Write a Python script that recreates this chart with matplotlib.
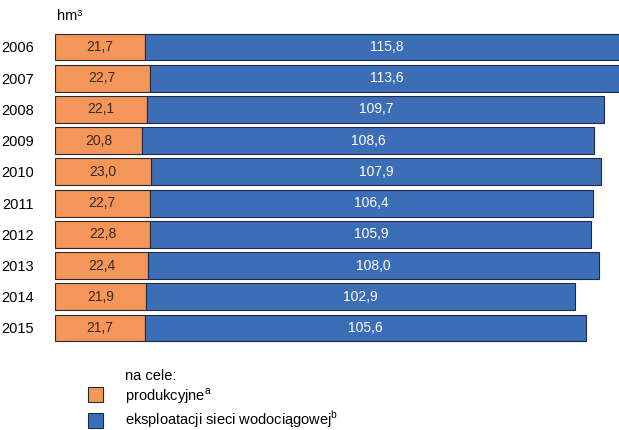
import matplotlib.pyplot as plt
from matplotlib.patches import Rectangle

plt.rcParams['font.family'] = ['Liberation Sans', 'DejaVu Sans']

lata = ["2006", "2007", "2008", "2009", "2010", "2011", "2012", "2013", "2014", "2015"]
produkcyjne = [21.7, 22.7, 22.1, 20.8, 23.0, 22.7, 22.8, 22.4, 21.9, 21.7]
eksploatacja = [115.8, 113.6, 109.7, 108.6, 107.9, 106.4, 105.9, 108.0, 102.9, 105.6]

kolor_pom = '#F4955A'
kolor_nieb = '#3C6EB8'

fig = plt.figure(figsize=(6.19, 4.30), dpi=100)
ax = fig.add_axes([55 / 619, 0.201, 1 - 55 / 619, 0.726])

y = list(range(len(lata)))
ax.barh(y, produkcyjne, height=0.86, color=kolor_pom, edgecolor='#2a2a2a', linewidth=0.8)
ax.barh(y, eksploatacja, left=produkcyjne, height=0.86, color=kolor_nieb,
        edgecolor='#1f2a44', linewidth=0.8)

def fmt(v):
    return f"{v:.1f}".replace('.', ',')

for i in y:
    ax.text(produkcyjne[i] / 2, i, fmt(produkcyjne[i]), ha='center', va='center',
            fontsize=10, color='#3a2a1a')
    ax.text(produkcyjne[i] + eksploatacja[i] / 2, i, fmt(eksploatacja[i]), ha='center',
            va='center', fontsize=10, color='white')

ax.set_xlim(0, 135.3)
ax.set_ylim(len(lata) - 0.5, -0.5)
ax.set_yticks(y)
ax.set_yticklabels(lata, fontsize=10.5)
ax.tick_params(axis='y', length=0, pad=15)
ax.set_xticks([])
for s in ax.spines.values():
    s.set_visible(False)

fig.text(57 / 619, 1 - 16 / 430, "hm³", fontsize=10.5, ha='left', va='center')

# legenda
fig.text(125 / 619, 1 - 376 / 430, "na cele:", fontsize=10.5, ha='left', va='center')
fig.patches.append(Rectangle((88 / 619, 1 - 402 / 430), 15 / 619, 15 / 430,
                             transform=fig.transFigure, facecolor=kolor_pom,
                             edgecolor='#2a2a2a', linewidth=0.8))
fig.patches.append(Rectangle((88 / 619, 1 - 428 / 430), 15 / 619, 15 / 430,
                             transform=fig.transFigure, facecolor=kolor_nieb,
                             edgecolor='#1f2a44', linewidth=0.8))
fig.text(125 / 619, 1 - 396 / 430, "produkcyjne$^{\\mathregular{a}}$", fontsize=10.5,
         ha='left', va='center')
fig.text(125 / 619, 1 - 419 / 430, "eksploatacji sieci wodociągowej$^{\\mathregular{b}}$",
         fontsize=10.5, ha='left', va='center')

fig.savefig("out.png", dpi=100)
